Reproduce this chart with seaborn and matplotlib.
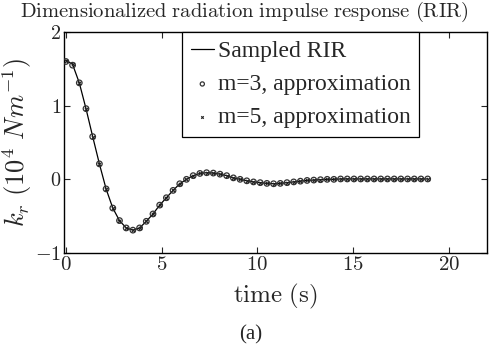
import matplotlib
matplotlib.use("Agg")
import pandas as pd
import matplotlib.pyplot as plt
import seaborn as sns

# sample times (s)
time_s = [0.0, 0.35, 0.7, 1.05, 1.4, 1.75, 2.1, 2.45, 2.8, 3.15, 3.5, 3.85, 4.2, 4.55,
          4.9, 5.25, 5.6, 5.95, 6.3, 6.65, 7.0, 7.35, 7.7, 8.05, 8.4, 8.75, 9.1, 9.45,
          9.8, 10.15, 10.5, 10.85, 11.2, 11.55, 11.9, 12.25, 12.6, 12.95, 13.3, 13.65,
          14.0, 14.35, 14.7, 15.05, 15.4, 15.75, 16.1, 16.45, 16.8, 17.15, 17.5, 17.85,
          18.2, 18.55, 18.9]

# sampled RIR (10^4 N/m)
sampled_rir = [1.62, 1.56, 1.31, 0.96, 0.58, 0.21, -0.13, -0.39, -0.56, -0.66, -0.69,
               -0.66, -0.57, -0.47, -0.35, -0.25, -0.15, -0.06, 0.00, 0.05, 0.08, 0.09,
               0.085, 0.07, 0.05, 0.02, 0.00, -0.02, -0.035, -0.045, -0.055, -0.06,
               -0.055, -0.045, -0.035, -0.025, -0.015, -0.01, -0.005, 0.0, 0.0, 0.005,
               0.005, 0.005, 0.005, 0.005, 0.005, 0.005, 0.005, 0.005, 0.005, 0.005,
               0.005, 0.005, 0.005]

# m=3 approximation
m3_approx = [1.60, 1.55, 1.31, 0.96, 0.58, 0.21, -0.13, -0.39, -0.56, -0.66, -0.69,
             -0.66, -0.57, -0.47, -0.35, -0.25, -0.15, -0.06, 0.00, 0.05, 0.08, 0.09,
             0.085, 0.07, 0.05, 0.02, 0.00, -0.02, -0.035, -0.045, -0.055, -0.06,
             -0.055, -0.045, -0.035, -0.025, -0.015, -0.01, -0.005, 0.0, 0.0, 0.005,
             0.005, 0.005, 0.005, 0.005, 0.005, 0.005, 0.005, 0.005, 0.005, 0.005,
             0.005, 0.005, 0.005]

# m=5 approximation
m5_approx = [1.61, 1.56, 1.31, 0.96, 0.58, 0.21, -0.13, -0.39, -0.56, -0.66, -0.69,
             -0.66, -0.57, -0.47, -0.35, -0.25, -0.15, -0.06, 0.00, 0.05, 0.08, 0.09,
             0.085, 0.07, 0.05, 0.02, 0.00, -0.02, -0.035, -0.045, -0.055, -0.06,
             -0.055, -0.045, -0.035, -0.025, -0.015, -0.01, -0.005, 0.0, 0.0, 0.005,
             0.005, 0.005, 0.005, 0.005, 0.005, 0.005, 0.005, 0.005, 0.005, 0.005,
             0.005, 0.005, 0.005]

x_ticks = [0, 5, 10, 15, 20]
y_ticks = [-1, 0, 1, 2]

df = pd.DataFrame({"t": time_s, "rir": sampled_rir, "m3": m3_approx, "m5": m5_approx})

sns.set_style("ticks")
plt.rcParams["mathtext.fontset"] = "cm"
plt.rcParams["font.family"] = ["Liberation Serif", "DejaVu Serif"]

fig = plt.figure(figsize=(4.91, 3.52), dpi=100)
ax = fig.add_axes([0.1303, 0.2813, 0.8616, 0.6277])

sns.lineplot(data=df, x="t", y="rir", ax=ax, color="black", linewidth=0.9,
             label="Sampled RIR")
sns.scatterplot(data=df, x="t", y="m3", ax=ax, marker="o", s=16, facecolor="none",
                edgecolor="#333333", linewidth=0.9, label="m=3, approximation", zorder=3)
sns.scatterplot(data=df, x="t", y="m5", ax=ax, marker="x", s=6, color="#222222",
                linewidth=0.8, label="m=5, approximation", zorder=4)

ax.set_xlim(-0.1, 22)
ax.set_ylim(-1, 2)
ax.set_xticks(x_ticks)
ax.set_xticklabels([f"${v}$" for v in x_ticks], fontsize=15)
ax.set_yticks(y_ticks)
ax.set_yticklabels([f"${v}$" for v in y_ticks], fontsize=14.5)
ax.tick_params(direction="in", length=4, width=0.8, top=True, right=True, pad=2)
for sp in ax.spines.values():
    sp.set_linewidth(1.0)
    sp.set_color("black")

# title is centred on the figure, not the axes
fig.text(0.498, 0.966, r"$\mathrm{Dimensionalized\ radiation\ impulse\ response\ (RIR)}$",
         ha="center", va="center", fontsize=14.8)
ax.set_xlabel(r"$\mathrm{time\ (s)}$", fontsize=18, labelpad=5)
ax.set_ylabel(r"$k_r\ (10^4\ Nm^{-1})$", fontsize=19, labelpad=1)

leg = ax.legend(loc="upper center", bbox_to_anchor=(0.559, 1.0), fontsize=17,
                frameon=True, fancybox=False, edgecolor="black", framealpha=1,
                borderaxespad=0, handlelength=1.0, handletextpad=0.15,
                labelspacing=0.5, borderpad=0.35, markerscale=0.75)
leg.get_frame().set_linewidth(0.9)

fig.text(0.51, 0.048, "(a)", ha="center", va="center", fontsize=15)

fig.savefig("out.png", dpi=100)
